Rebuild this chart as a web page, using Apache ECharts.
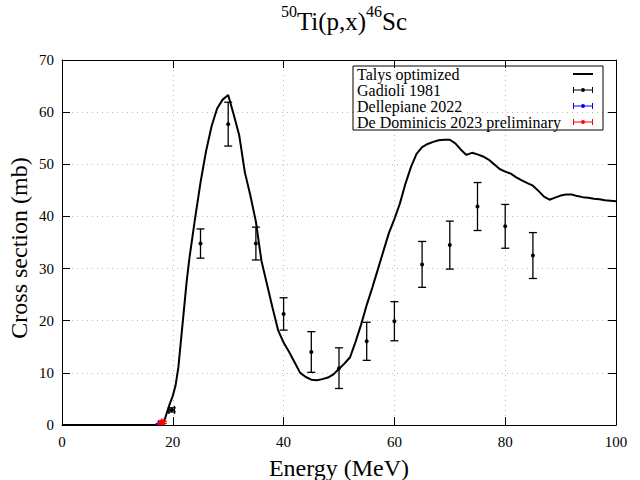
<!DOCTYPE html>
<html><head><meta charset="utf-8">
<script src="https://cdn.jsdelivr.net/npm/echarts@6/dist/echarts.min.js"></script>
<style>html,body{margin:0;padding:0;background:#fff}#c{width:640px;height:480px}</style>
</head><body><div id="c"></div>
<script>
// ---- data ----
const talysE = [0,5,10,15,17,17.5,18,18.5,19,19.5,20,20.5,21,21.5,22,22.5,23,24,25,26,27,28,29,30,31,32,33,34,35,36,37,38,39,40,41,42,43,44,45,46,47,48,49,50,51,52,53,54,55,56,57,58,59,60,61,62,63,64,65,66,67,68,69,70,71,72,73,74,75,76,77,78,79,80,81,82,83,84,85,86,87,88,89,90,91,92,93,94,95,96,97,98,99,100];
const talysS = [0,0,0,0,0,0.05,0.3,0.9,2.6,4.2,5.6,7.6,11.0,16.5,22.0,27.5,32.0,39.5,46.5,52.5,57.3,60.7,62.4,63.3,59.5,55.5,48.5,44.0,39.0,31.5,27.0,22.5,18.2,15.8,14.0,12.0,10.0,9.2,8.7,8.6,8.8,9.1,9.7,10.8,11.8,13.0,16.0,19.3,23.0,26.3,29.8,33.3,36.8,39.5,42.5,46.3,49.5,52.0,53.3,53.9,54.3,54.6,54.7,54.7,54.0,52.8,51.8,52.2,51.9,51.5,50.9,50.0,49.1,48.6,48.2,47.5,46.9,46.4,45.9,44.9,43.8,43.2,43.6,44.0,44.2,44.2,43.9,43.7,43.6,43.4,43.3,43.1,43.0,42.9];

const gadE = [19.8,25,30,35,40,45,50,55,60,65,70,75,80,85];
const gadS = [2.9,34.8,57.7,34.8,21.3,14.0,10.9,16.05,19.9,30.8,34.5,41.9,38.1,32.5];
const gadErr = [0.4,2.8,4.2,3.15,3.1,3.9,3.9,3.65,3.75,4.4,4.6,4.6,4.2,4.4];
const gadXErr = [0.5,0,0,0,0,0,0,0,0,0,0,0,0,0];

const delE = [17.6];
const delS = [0.15];
const delErr = [0.1];
const delXErr = [0.2];

const domE = [17.9,18.2];
const domS = [0.3,0.5];
const domErr = [0.15,0.2];
const domXErr = [0.2,0.2];

const xName = 'Energy (MeV)';
const yName = 'Cross section (mb)';

// ---- chart ----
const FONT = "'Liberation Serif', 'DejaVu Serif', serif";
function zip(a,b){return a.map((v,i)=>[v,b[i]]);}
function errData(E,S,err,xerr){return E.map((e,i)=>[e,S[i],err[i],xerr[i]]);}
function renderErr(params, api){
  const x=api.value(0), y=api.value(1), ey=api.value(2), ex=api.value(3);
  const c=api.coord([x,y]);
  const color=api.visual('color');
  const st={stroke:color,lineWidth:1.3};
  const cap=4;
  const ch=[];
  if(ey>0){
    const lo=api.coord([x,y-ey]), hi=api.coord([x,y+ey]);
    ch.push({type:'line',shape:{x1:c[0],y1:lo[1],x2:c[0],y2:hi[1]},style:st});
    ch.push({type:'line',shape:{x1:c[0]-cap,y1:lo[1],x2:c[0]+cap,y2:lo[1]},style:st});
    ch.push({type:'line',shape:{x1:c[0]-cap,y1:hi[1],x2:c[0]+cap,y2:hi[1]},style:st});
  }
  if(ex>0){
    const l=api.coord([x-ex,y]), r=api.coord([x+ex,y]);
    ch.push({type:'line',shape:{x1:l[0],y1:c[1],x2:r[0],y2:c[1]},style:st});
    ch.push({type:'line',shape:{x1:l[0],y1:c[1]-cap,x2:l[0],y2:c[1]+cap},style:st});
    ch.push({type:'line',shape:{x1:r[0],y1:c[1]-cap,x2:r[0],y2:c[1]+cap},style:st});
  }
  ch.push({type:'circle',shape:{cx:c[0],cy:c[1],r:2},style:{fill:color}});
  return {type:'group',children:ch};
}
const errIcon = 'path://M0,0h1v6h-1z M19,0h1v6h-1z M0,2.5h20v1h-20z M10,1a2,2 0 1,1 0,4a2,2 0 1,1 0,-4z';
const lineIcon = 'path://M0,0h20v2h-20z';

const axisCommon = {
  type:'value',
  axisLine:{show:true,onZero:false,lineStyle:{color:'#000',width:1}},
  axisTick:{show:true,inside:true,length:8,lineStyle:{color:'#000'}},
};
const chart = echarts.init(document.getElementById('c'), null, {renderer:'svg'});
chart.setOption({
  animation:false,
  backgroundColor:'#fff',
  title:{
    text:'{s|50}{m|Ti(p,x)}{s|46}{m|Sc}',
    left:339, textAlign:'center', top:-2,
    textStyle:{
      fontWeight:'normal',
      rich:{
        s:{fontFamily:FONT,fontSize:16,fontWeight:'normal',color:'#000',verticalAlign:'top',lineHeight:28},
        m:{fontFamily:FONT,fontSize:25,fontWeight:'normal',color:'#000',lineHeight:28,padding:[8,0,0,0]}
      }
    }
  },
  graphic:[
    {type:'text',x:339,y:468,style:{text:xName,font:"24px 'Liberation Serif'",fill:'#000',textAlign:'center',textVerticalAlign:'middle'}},
    {type:'text',x:19,y:248,rotation:Math.PI/2,style:{text:yName,font:"24px 'Liberation Serif'",fill:'#000',textAlign:'center',textVerticalAlign:'middle'}}
  ],
  legend:{
    orient:'vertical',
    left:353, top:66,
    align:'right',
    borderColor:'#000', borderWidth:1, borderRadius:0,
    padding:[0,10,0,4],
    itemGap:0,
    itemWidth:20, itemHeight:6,
    formatter:'{a|{name}}',
    textStyle:{fontFamily:FONT,fontSize:16,color:'#000',
      rich:{a:{fontFamily:FONT,fontSize:16,color:'#000',width:211,align:'left',lineHeight:17}}},
    data:[
      {name:'Talys optimized',icon:lineIcon},
      {name:'Gadioli 1981',icon:errIcon},
      {name:'Dellepiane 2022',icon:errIcon},
      {name:'De Dominicis 2023 preliminary',icon:errIcon}
    ],
    selectedMode:false
  },
  grid:{left:62,right:24,top:60,bottom:55,containLabel:false,outerBoundsMode:'none'},
  xAxis:[
    Object.assign({},axisCommon,{
      min:0,max:100,interval:20,position:'bottom',
      axisLabel:{fontFamily:FONT,fontSize:15,color:'#000',margin:9},
      splitLine:{show:true,lineStyle:{color:'#bbb',type:[1,4],width:1}}
    }),
    Object.assign({},axisCommon,{
      min:0,max:100,interval:20,position:'top',
      axisLabel:{show:false},splitLine:{show:false}
    })
  ],
  yAxis:[
    Object.assign({},axisCommon,{
      min:0,max:70,interval:10,position:'left',
      axisLabel:{fontFamily:FONT,fontSize:15,color:'#000',margin:8},
      splitLine:{show:true,lineStyle:{color:'#bbb',type:[1,4],width:1}}
    }),
    Object.assign({},axisCommon,{
      min:0,max:70,interval:10,position:'right',
      axisLabel:{show:false},splitLine:{show:false}
    })
  ],
  series:[
    {name:'Talys optimized',type:'line',data:zip(talysE,talysS),showSymbol:false,symbol:'none',
     lineStyle:{color:'#000',width:2},itemStyle:{color:'#000'},z:3},
    {name:'Gadioli 1981',type:'custom',renderItem:renderErr,data:errData(gadE,gadS,gadErr,gadXErr),
     itemStyle:{color:'#000'},encode:{x:0,y:1},clip:true,z:4},
    {name:'Dellepiane 2022',type:'custom',renderItem:renderErr,data:errData(delE,delS,delErr,delXErr),
     itemStyle:{color:'#0000ff'},encode:{x:0,y:1},clip:true,z:4},
    {name:'De Dominicis 2023 preliminary',type:'custom',renderItem:renderErr,data:errData(domE,domS,domErr,domXErr),
     itemStyle:{color:'#ff0000'},encode:{x:0,y:1},clip:true,z:4}
  ]
});
</script></body></html>
